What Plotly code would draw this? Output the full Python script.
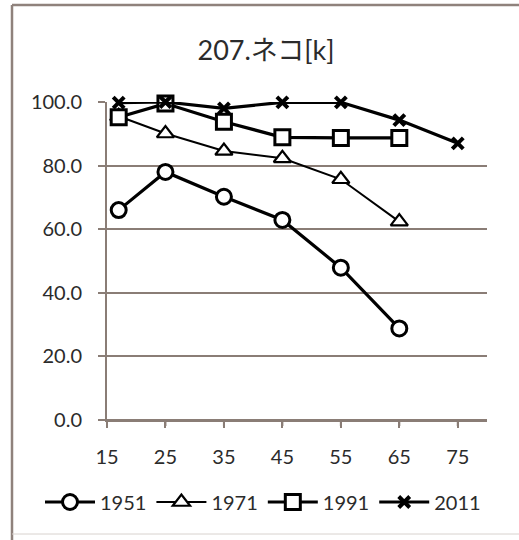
import plotly.graph_objects as go

# Age groups (x) and percentages for each survey year
ages = [17, 25, 35, 45, 55, 65, 75]
years = ["1951", "1971", "1991", "2011"]
v1951 = [66.0, 78.0, 70.2, 62.9, 47.9, 28.8, None]
v1971 = [95.5, 90.1, 84.6, 82.3, 75.7, 62.4, None]
v1991 = [95.2, 99.5, 93.8, 88.9, 88.7, 88.7, None]
v2011 = [99.8, 100.0, 98.0, 99.9, 99.9, 94.3, 87.0]
x_ticks = [15, 25, 35, 45, 55, 65, 75]
y_ticks = [0, 20, 40, 60, 80, 100]
x_range = [15, 80]
y_range = [0, 100]

AXIS = "#8a7d76"
TEXT = "#2b2b2b"
FONT = "Lato, 'Noto Sans CJK JP', sans-serif"

styles = {
    "1951": dict(symbol="circle", size=15, lw=3.2, mw=3, fill="white"),
    "1971": dict(symbol="triangle-up", size=15, lw=2.0, mw=2.2, fill="white"),
    "1991": dict(symbol="square", size=15, lw=3.2, mw=3, fill="white"),
    "2011": dict(symbol="x-thin", size=11, lw=3.2, mw=4, fill="black"),
}
series = {"1951": v1951, "1971": v1971, "1991": v1991, "2011": v2011}

fig = go.Figure()
for yr in years:
    s = styles[yr]
    fig.add_trace(go.Scatter(
        x=ages, y=series[yr], name=yr, mode="lines+markers",
        line=dict(color="black", width=s["lw"]),
        marker=dict(symbol=s["symbol"], size=s["size"], color=s["fill"],
                    line=dict(color="black", width=s["mw"])),
        cliponaxis=False,
    ))

L, R, T, B = 107, 487, 102, 420
W, H = 519, 540
pw, ph = R - L, B - T

def px(xp):
    return (xp - L) / pw

def py(yp):
    return (B - yp) / ph

fig.update_layout(
    width=W, height=H,
    margin=dict(l=L, r=W - R, t=T, b=H - B),
    paper_bgcolor="white", plot_bgcolor="white",
    font=dict(family=FONT, color=TEXT, size=15),
    title=dict(text="207.ネコ[k]", x=px(266), xref="paper", xanchor="center",
               y=1 - 51 / H, yanchor="middle",
               font=dict(size=27, color=TEXT, family=FONT)),
    showlegend=True,
    legend=dict(orientation="h", x=px(40), xanchor="left", y=py(502),
                yanchor="middle", font=dict(size=20, color=TEXT),
                itemwidth=50, tracegroupgap=0, bgcolor="rgba(0,0,0,0)"),
    xaxis=dict(range=x_range, tickvals=x_ticks, showgrid=False,
               showline=True, linecolor=AXIS, linewidth=2,
               ticks="outside", ticklen=6, tickcolor=AXIS, tickwidth=2,
               ticklabelstandoff=12,
               zeroline=False, tickfont=dict(size=20, color=TEXT)),
    yaxis=dict(range=y_range, tickvals=y_ticks, tickformat=".1f",
               showgrid=True, gridcolor=AXIS, gridwidth=1.6,
               showline=True, linecolor=AXIS, linewidth=2,
               ticks="outside", ticklen=7, tickcolor=AXIS, tickwidth=2,
               ticklabelstandoff=12,
               zeroline=False, tickfont=dict(size=20, color=TEXT)),
)

# Horizontal axis rule and its tick marks, kept on top of the traces
fig.add_shape(type="line", xref="x", yref="y", layer="above",
              x0=x_range[0], x1=x_range[1], y0=y_range[0], y1=y_range[0],
              line=dict(color=AXIS, width=2))
for t in x_ticks:
    fig.add_shape(type="line", xref="x", yref="paper", layer="above",
                  x0=t, x1=t, y0=0, y1=py(B + 6),
                  line=dict(color=AXIS, width=2))

# Chart frame around the whole figure
frame = dict(type="line", xref="paper", yref="paper", layer="above")
fig.add_shape(**frame, x0=px(12), x1=px(530), y0=py(5), y1=py(5),
              line=dict(color="#8f827c", width=2.5))
fig.add_shape(**frame, x0=px(12), x1=px(12), y0=py(5), y1=py(540),
              line=dict(color="#8f827c", width=2.5))
fig.add_shape(**frame, x0=px(12), x1=px(530), y0=py(534), y1=py(534),
              line=dict(color="#d8d2ce", width=1))

fig.write_html("out.html")
